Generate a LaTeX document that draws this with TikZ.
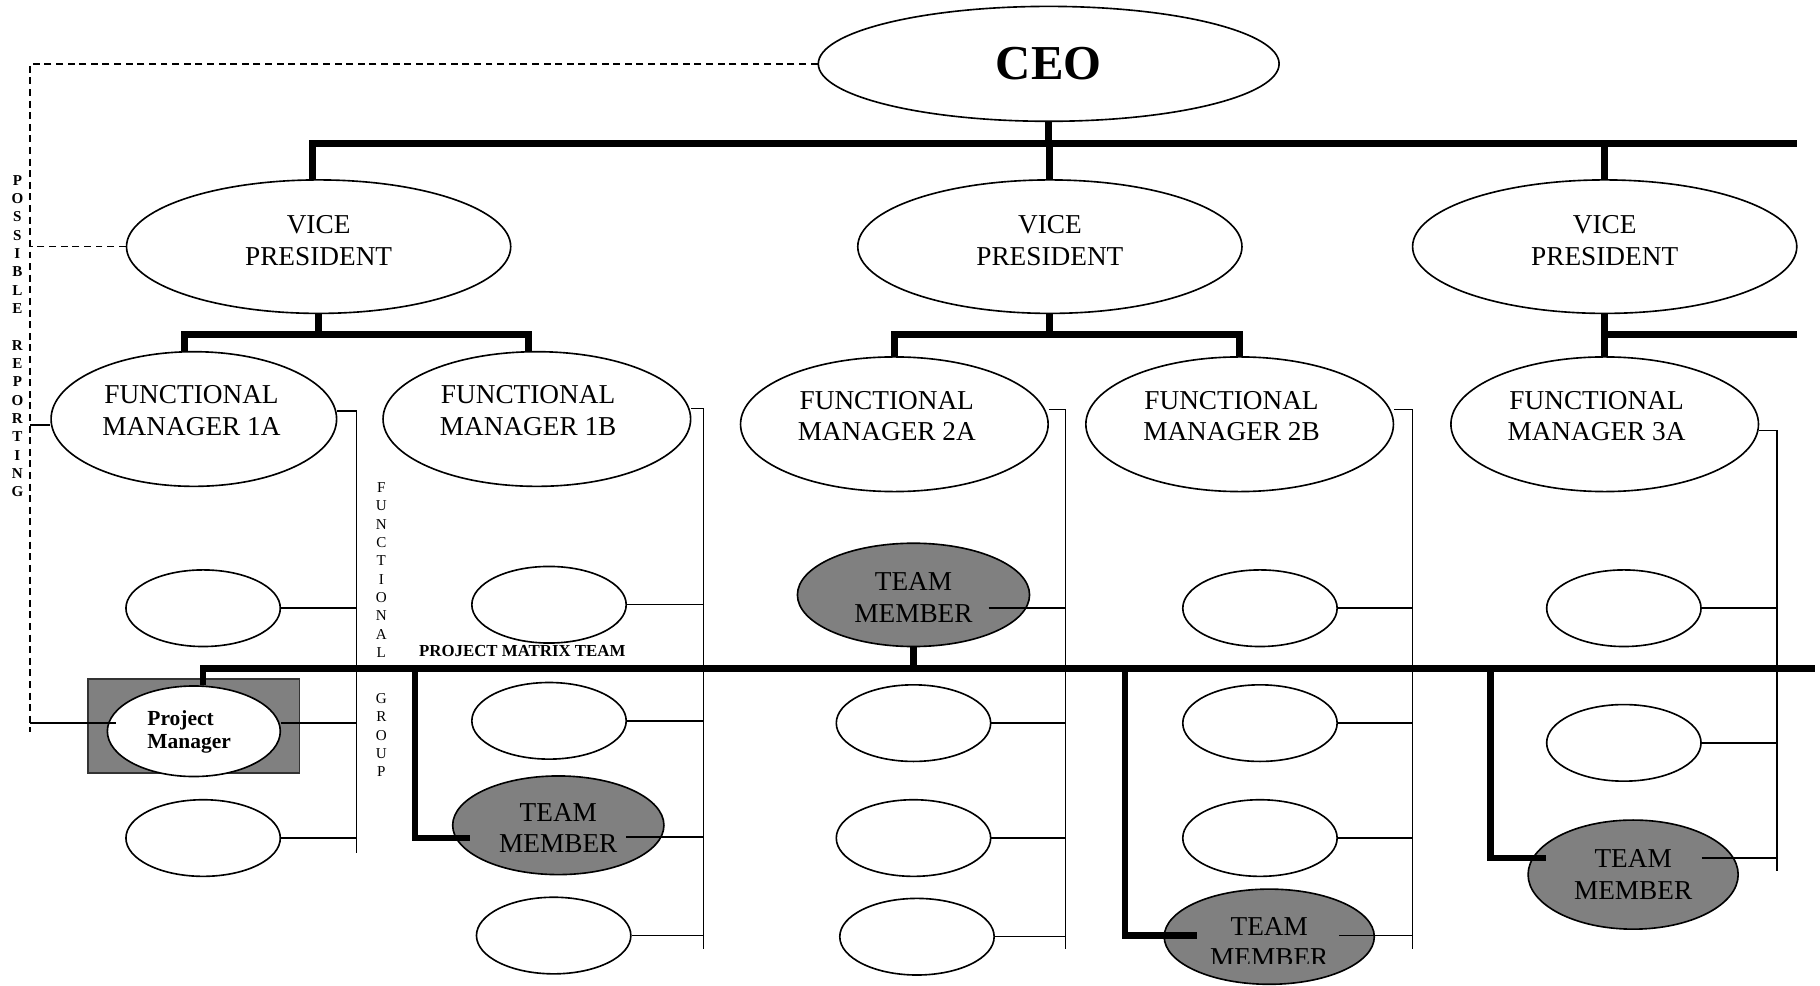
\documentclass[tikz,border=0pt]{standalone}
\usepackage{fontspec}
\setmainfont{Liberation Serif}
\usepackage{tikz}
\usetikzlibrary{shapes.geometric,calc}

\definecolor{tmgray}{RGB}{128,128,128}
\newcommand{\orgfont}{\fontsize{23.5}{27.3}\selectfont}
\newcommand{\ceofont}{\fontsize{42}{46}\selectfont\bfseries}
\newcommand{\pmfont}{\fontsize{18.5}{20.5}\selectfont\bfseries}
\newcommand{\teamfont}{\fontsize{14.5}{16}\selectfont\bfseries}
\newcommand{\colfont}{\fontsize{13}{15.8}\selectfont}

\tikzset{
	oval/.style={ellipse, draw, line width=1.4pt, inner sep=0pt},
	vpoval/.style={oval, minimum width=331pt, minimum height=115pt},
	fmoval/.style={oval, minimum width=265pt, minimum height=116pt},
	emptyoval/.style={oval, minimum width=133pt, minimum height=66pt},
	member/.style={oval, fill=tmgray, font=\orgfont, align=center},
	orgtext/.style={font=\orgfont, align=center, inner sep=0pt},
	vtext/.style={font=\colfont, align=center, inner sep=0pt},
	wire/.style={line width=1.3pt},
	bus/.style={line width=6pt},
	tmbus/.style={line width=5.5pt},
	report/.style={line width=1.2pt, dash pattern=on 6pt off 4pt}
}

\begin{document}
\begin{tikzpicture}[x=1pt, y=-1pt]
	\useasboundingbox (0,0) rectangle (1568,849);
	
	\node[oval, minimum width=397pt, minimum height=99pt, font=\ceofont] (ceo) at (903.5,55) {CEO};
	
	\node[vpoval] (vp1) at (274.5,212.5) {};
	\node[vpoval] (vp2) at (904.5,212.5) {};
	\node[vpoval] (vp3) at (1382.5,212.5) {};
	\foreach \v in {1,2,3}
		\node[orgtext] (vp\v-t) at ($(vp\v)+(0,-5.5)$) {VICE\\PRESIDENT};
	
	\node[fmoval, minimum width=246pt] (fm1a) at (167,361) {};
	\node[fmoval] (fm1b) at (462.5,361) {};
	\node[fmoval] (fm2a) at (770.5,365.5) {};
	\node[fmoval] (fm2b) at (1068,365.5) {};
	\node[fmoval] (fm3a) at (1382.5,365.5) {};
	\foreach \f/\t/\dx in {fm1a/1A/-2, fm1b/1B/-7.5, fm2a/2A/-6.5, fm2b/2B/-7, fm3a/3A/-7}
		\node[orgtext] (\f-t) at ($(\f)+(\dx,-7)$) {FUNCTIONAL\\MANAGER \t};
	
	% empty places in the functional groups
	\foreach \n/\x/\y in {e1a1/175/524, e1a3/175/722, e1b1/473/521, e1b2/473/621, e1b4/477/806,
		e2a2/787/623, e2a3/787/722, e2a4/790/807, e2b1/1085.5/524, e2b2/1085.5/623, e2b3/1085.5/722,
		e3a1/1399/524, e3a2/1399/640}
		\node[emptyoval] (\n) at (\x,\y) {};
	
	\node[member, minimum width=182pt, minimum height=85pt] (tm1b) at (481,711) {};
	\node[member, minimum width=200pt, minimum height=89pt] (tm2a) at (787,512.5) {};
	\node[member, minimum width=181pt, minimum height=82pt] (tm2b) at (1093.5,807) {};
	\node[member, minimum width=181pt, minimum height=94pt] (tm3a) at (1407,753.5) {};
	\foreach \m/\dy in {tm1b/2.5, tm2a/2.5, tm3a/0}
		\node[orgtext] (\m-t) at ($(\m)+(0,\dy)$) {TEAM\\MEMBER};
	\begin{scope}
		\clip (tm2b.north west) rectangle ($(tm2b.east)+(0,23)$);
		\node[orgtext] (tm2b-t) at ($(tm2b)+(0,4.5)$) {TEAM\\MEMBER};
	\end{scope}
	
	\node[draw=black!80, line width=1.4pt, fill=tmgray, minimum width=182pt, minimum height=81pt, inner sep=0pt] (pmbox) at (167,625.5) {};
	\node[oval, fill=white, minimum width=149pt, minimum height=78pt] (pm) at (167,630) {};
	\node[font=\pmfont, align=left, inner sep=0pt] (pm-t) at (163,630.5) {Project\\Manager};
	
	\node[vtext, font=\colfont\bfseries] (possible) at (15,289.5) {P\\O\\S\\S\\I\\B\\L\\E\\~\\R\\E\\P\\O\\R\\T\\I\\N\\G};
	\node[vtext] (functional) at (328.5,491) {F\\U\\N\\C\\T\\I\\O\\N\\A\\L};
	\node[vtext] (group) at (328.5,633.5) {G\\R\\O\\U\\P};
	\node[font=\teamfont, inner sep=0pt] (pmt-t) at (450,561) {PROJECT MATRIX TEAM};
	
	% line organisation
	\coordinate (ceobar) at (1548,124);
	\coordinate (sub) at (0,288);
	\coordinate (sub3) at (1548,288);
	\draw[bus] ($(vp1.north)+(-5,0)$) |- (ceobar);
	\foreach \v in {ceo.south, vp2.north, vp3.north}
		\draw[bus] (\v) -- (\v |- ceobar);
	\coordinate (fm1a-n) at ($(fm1a.north)+(-8,0)$);
	\coordinate (fm1b-n) at ($(fm1b.north)+(-7,0)$);
	\draw[bus] (fm1a-n) |- (sub -| fm1b-n) -- (fm1b-n);
	\draw[bus] (fm2a.north) |- (sub -| fm2b.north) -- (fm2b.north);
	\draw[bus] (vp1.south) -- (vp1.south |- sub);
	\draw[bus] (vp2.south) -- (vp2.south |- sub);
	\draw[bus] (vp3.south) -- (fm3a.north);
	\draw[bus] (vp3.south |- sub3) -- (sub3);
	
	% functional groups
	\foreach \g/\f/\x/\t/\b in {g1/fm1a/307/354/735, g2/fm1b/606/352/818, g3/fm2a/918/353/818, g4/fm2b/1217/353/818, g5/fm3a/1531/371/750}
	{
		\coordinate (\g-top) at (\x,\t);
		\coordinate (\g) at (\x,\b);
		\draw[wire] (\g-top -| \f.east) -- (\g-top) -- (\g);
	}
	\foreach \n/\g in {e1a1/g1, e1a3/g1, e1b1/g2, e1b2/g2, e1b4/g2, e2a2/g3, e2a3/g3, e2a4/g3, e2b1/g4, e2b2/g4, e2b3/g4, e3a1/g5, e3a2/g5}
		\draw[wire] (\n.east) -- (\n.east -| \g);
	\foreach \m/\g/\dx/\dy in {tm1b/g2/-33/10, tm2a/g3/-36/11.5, tm2b/g4/-31/-1, tm3a/g5/-32/-14.5}
	{
		\coordinate (\m-r) at ($(\m.east)+(\dx,\dy)$);
		\draw[wire] (\m-r) -- (\m-r -| \g);
	}
	
	% possible reporting
	\coordinate (rep) at (26,631);
	\coordinate (rep1a) at (26,366);
	\coordinate (pmrow) at (26,623);
	\draw[report] (ceo.west) -| (rep);
	\draw[report] (vp1.west) -- (vp1.west -| rep);
	\draw[wire] (rep1a) -- (rep1a -| fm1a.west);
	\draw[wire] (pmrow) -- ($(pmrow -| pm.west)+(8,0)$);
	\draw[wire] (pmrow -| pm.east) -- (pmrow -| g1);
	
	% project matrix team
	\coordinate (pbus) at (1564,576);
	\draw[tmbus] ($(pm.north)+(8,0)$) |- (pbus);
	\draw[tmbus] (tm2a.south) -- (tm2a.south |- pbus);
	\foreach \m/\x/\dx/\dy in {tm1b/357.5/16/11, tm2b/969/29/-1, tm3a/1284/16/-14.5}
	{
		\coordinate (\m-d) at (\x,576);
		\coordinate (\m-l) at ($(\m.west)+(\dx,\dy)$);
		\draw[tmbus] (\m-d) |- (\m-l);
	}
\end{tikzpicture}
\end{document}
